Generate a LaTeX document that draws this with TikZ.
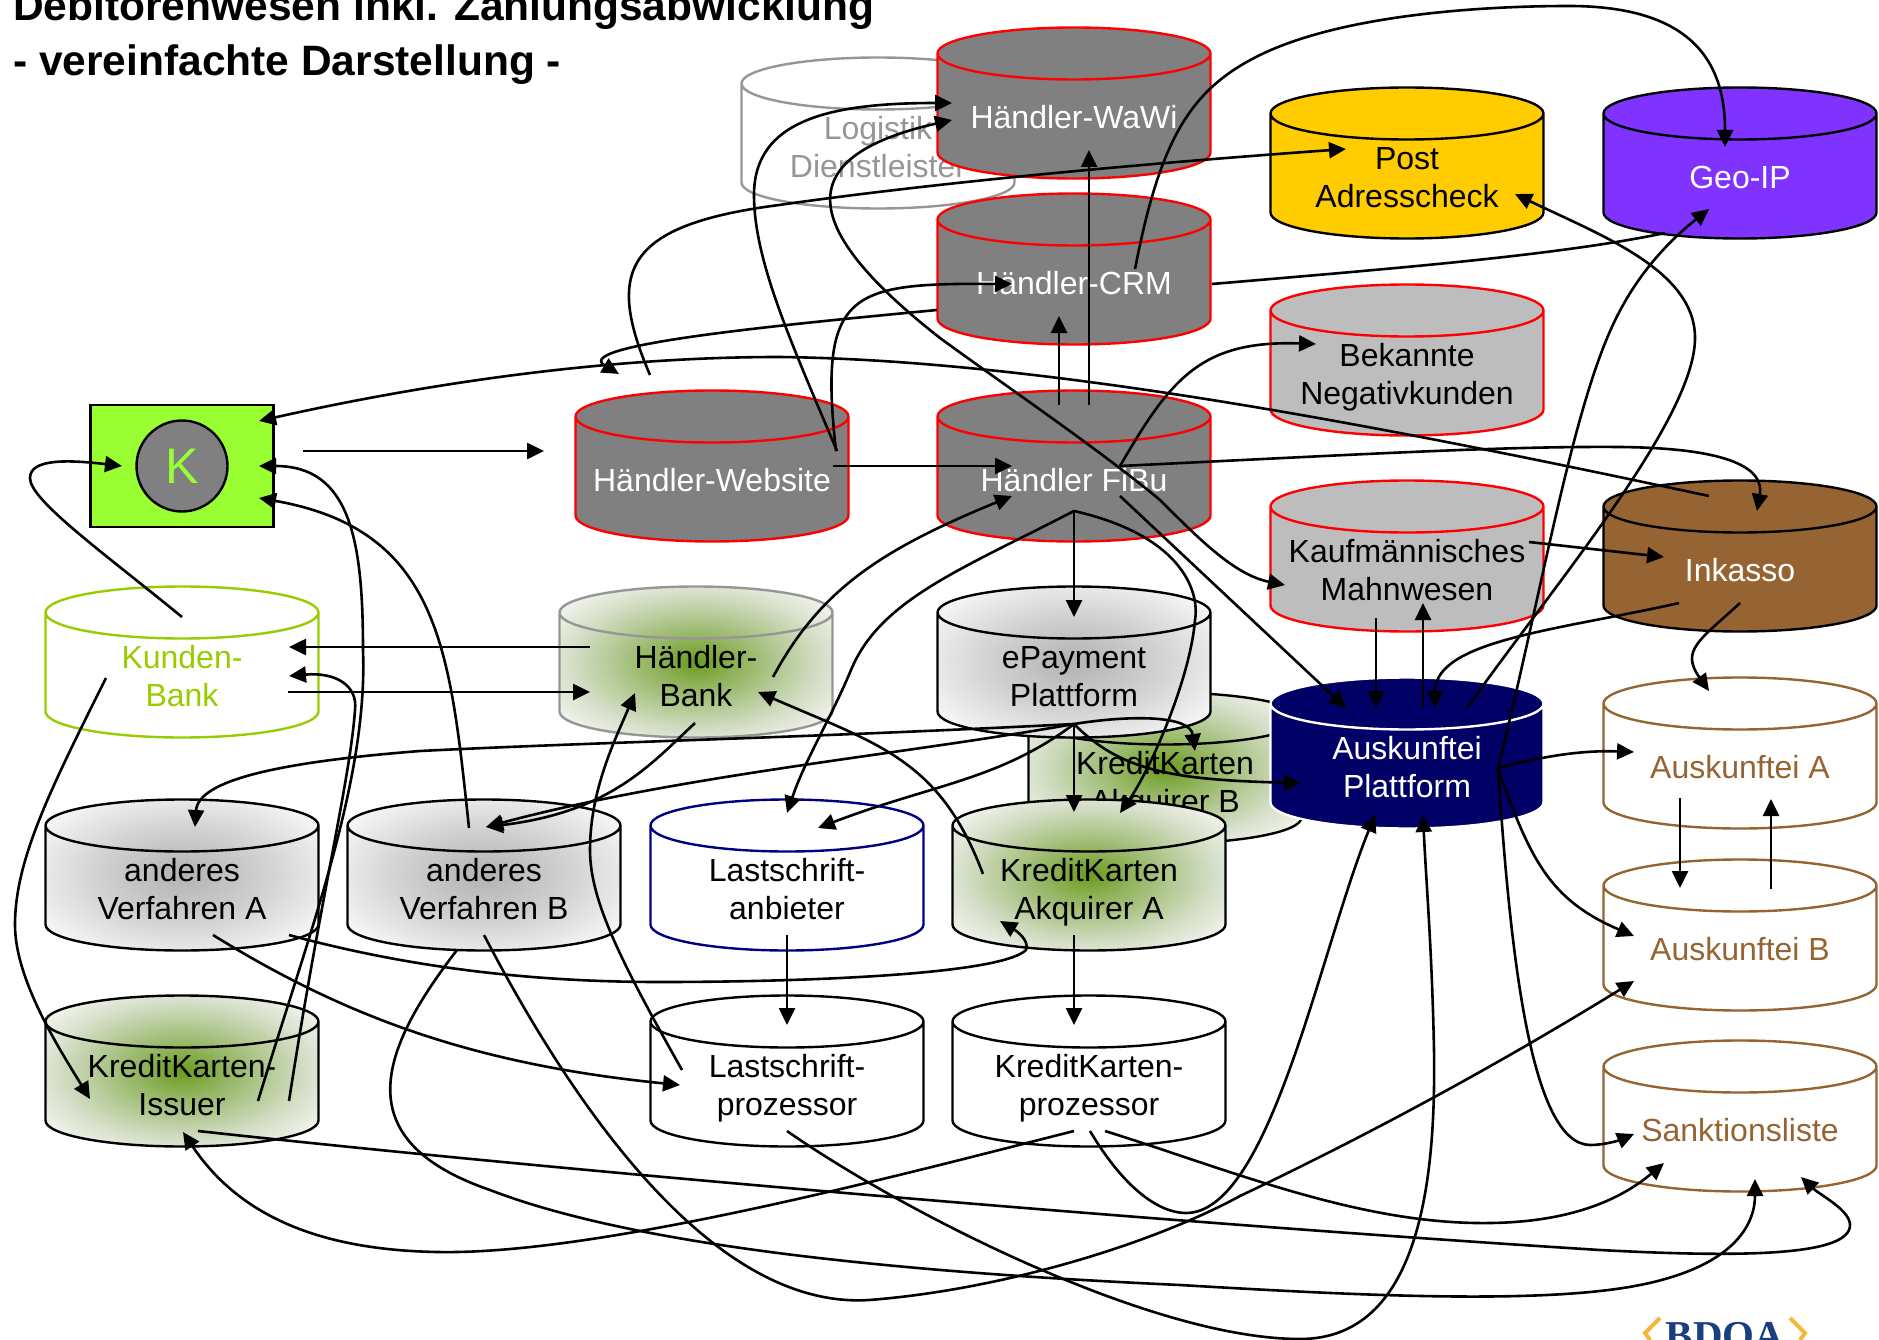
\documentclass[tikz,border=0pt]{standalone}
\usepackage{fontspec}
\setmainfont{Liberation Sans}
\newfontfamily\logofont{Liberation Serif}
\usepackage{xcolor}
\usetikzlibrary{arrows.meta,shapes.geometric}
\definecolor{dbred}{RGB}{255,0,0}
\definecolor{dbgray}{RGB}{128,128,128}
\definecolor{dbsilver}{RGB}{189,189,189}
\definecolor{dbfaint}{RGB}{150,150,150}
\definecolor{dblime}{RGB}{153,255,51}
\definecolor{dbolive}{RGB}{153,204,0}
\definecolor{dbyellow}{RGB}{255,204,0}
\definecolor{dbviolet}{RGB}{128,51,255}
\definecolor{dbbrown}{RGB}{150,100,50}
\definecolor{dbnavy}{RGB}{0,0,102}
\definecolor{dbblue}{RGB}{0,0,128}
\definecolor{dblogo}{RGB}{26,63,127}
\definecolor{dbgold}{RGB}{240,185,60}
\definecolor{dbgreena}{RGB}{107,155,30}
\definecolor{dbgreenb}{RGB}{136,174,78}
\definecolor{dbgreenc}{RGB}{173,197,138}
\definecolor{dbgreend}{RGB}{213,223,200}
\definecolor{dbgreene}{RGB}{246,247,242}
\definecolor{dbshadea}{RGB}{178,178,178}
\definecolor{dbshadeb}{RGB}{208,208,208}
\definecolor{dbshadec}{RGB}{250,250,250}
\pgfdeclareradialshading{dbgreenglow}{\pgfpointorigin}{color(0bp)=(dbgreena); color(6bp)=(dbgreenb); color(14bp)=(dbgreenc); color(23bp)=(dbgreend); color(32bp)=(dbgreene); color(50bp)=(dbgreene)}
\pgfdeclareradialshading{dbgrayglow}{\pgfpointorigin}{color(0bp)=(dbshadea); color(15bp)=(dbshadeb); color(32bp)=(dbshadec); color(50bp)=(dbshadec)}
% keeps the cylinders one size, whatever they hold
\newcommand{\cyltext}[1]{\makebox[200pt]{\raisebox{-10.5pt}[12.5pt][12.5pt]{\begin{tabular}{@{}c@{}}#1\end{tabular}}}}
\tikzstyle{arrow} = [line width=2.6pt,-{Triangle[length=17pt,width=16pt]},color=black]
\tikzstyle{datastore} = [cylinder, shape border rotate=90, aspect=0.26, anchor=shape center, minimum width=273pt, minimum height=151pt, inner sep=0pt, outer sep=0pt, draw=black, fill=white, line width=2.4pt, font=\fontsize{32}{38}\selectfont]
\tikzstyle{merchant} = [datastore, draw=dbred, fill=dbgray, text=white]
\tikzstyle{greenstore} = [datastore, shade, shading=dbgreenglow]
\tikzstyle{graystore} = [datastore, shade, shading=dbgrayglow]
\tikzstyle{brownstore} = [datastore, draw=dbbrown, text=dbbrown]

\begin{document}
\begin{tikzpicture}[x=1pt, y=-1pt]
\useasboundingbox (0,0) rectangle (1879,1340);

% Title
\node[anchor=base west, align=left, inner sep=0pt, font=\fontsize{42.5}{55}\selectfont\bfseries] (title) at (13,76) {Debitorenwesen inkl. Zahlungsabwicklung\\- vereinfachte Darstellung -};

% Customer
\node[rectangle, draw=black, fill=dblime, line width=2.4pt, minimum width=183pt, minimum height=122pt] (kunde) at (182,466) {};
\node[circle, draw=black, fill=dbgray, line width=2.4pt, minimum size=91pt, inner sep=0pt, text=dblime, font=\fontsize{50}{50}\selectfont] (kreis) at (182,466) {K};

% Stores, back row first
\node[datastore, draw=dbfaint, text=dbfaint] (logistik) at (878,133) {\cyltext{Logistik\\Dienstleister}};
\node[greenstore] (akqb) at (1165,768) {\cyltext{KreditKarten\\Akquirer B}};
\node[merchant] (hwawi) at (1074,103) {\cyltext{Händler-WaWi}};
\node[merchant] (hcrm) at (1074,269) {\cyltext{Händler-CRM}};
\node[merchant] (hfibu) at (1074,466) {\cyltext{Händler FiBu}};
\node[merchant] (hweb) at (712,466) {\cyltext{Händler-Website}};
\node[datastore, fill=dbyellow] (post) at (1407,163) {\cyltext{Post\\Adresscheck}};
\node[datastore, fill=dbviolet, text=white] (geoip) at (1740,163) {\cyltext{Geo-IP}};
\node[datastore, draw=dbred, fill=dbsilver] (negativ) at (1407,360) {\cyltext{Bekannte\\Negativkunden}};
\node[datastore, draw=dbred, fill=dbsilver] (mahn) at (1407,556) {\cyltext{Kaufmännisches\\Mahnwesen}};
\node[datastore, fill=dbbrown, text=white] (inkasso) at (1740,556) {\cyltext{Inkasso}};
\node[datastore, draw=dbolive, text=dbolive] (kbank) at (182,662) {\cyltext{Kunden-\\Bank}};
\node[greenstore, draw=dbfaint] (hbank) at (696,662) {\cyltext{Händler-\\Bank}};
\node[graystore] (epay) at (1074,662) {\cyltext{ePayment\\Plattform}};
\node[datastore, draw=white, fill=dbnavy, text=white] (ausk) at (1407,753) {\cyltext{Auskunftei\\Plattform}};
\node[brownstore] (auska) at (1740,753) {\cyltext{Auskunftei A}};
\node[brownstore] (auskb) at (1740,935) {\cyltext{Auskunftei B}};
\node[brownstore] (sanktion) at (1740,1116) {\cyltext{Sanktionsliste}};
\node[graystore] (verfa) at (182,875) {\cyltext{anderes\\Verfahren A}};
\node[graystore] (verfb) at (484,875) {\cyltext{anderes\\Verfahren B}};
\node[datastore, draw=dbblue] (lsanb) at (787,875) {\cyltext{Lastschrift-\\anbieter}};
\node[greenstore] (akqa) at (1089,875) {\cyltext{KreditKarten\\Akquirer A}};
\node[greenstore] (issuer) at (182,1071) {\cyltext{KreditKarten-\\Issuer}};
\node[datastore] (lsproz) at (787,1071) {\cyltext{Lastschrift-\\prozessor}};
\node[datastore] (kkproz) at (1089,1071) {\cyltext{KreditKarten-\\prozessor}};

% Logo
\node[anchor=base, inner sep=0pt, text=dblogo, font=\fontsize{41}{41}\selectfont\logofont\bfseries] (logo) at (1725,1349) {BDOA};
\draw[dbgold, line width=4pt] ([shift={(-65,-31)}]logo.base) -- ([shift={(-80,-16)}]logo.base) -- ([shift={(-75,-9)}]logo.base);
\draw[dbgold, line width=4pt] ([shift={(65,-31)}]logo.base) -- ([shift={(80,-16)}]logo.base) -- ([shift={(75,-9)}]logo.base);

% Customer links
\draw[arrow] ([shift={(121,-15)}]kunde.center) -- ([shift={(-168,-15)}]hweb.shape center);
\draw[arrow] ([shift={(-31,-60)}]inkasso.shape center) .. controls (1400,430) and (1050,360) .. (779,357) .. controls (600,357) and (420,385) .. ([shift={(77,-45)}]kunde.center);
\draw[arrow] ([shift={(0,-45)}]kbank.shape center) .. controls (100,550) and (30,500) .. (30,478) .. controls (30,458) and (70,460) .. ([shift={(-60,0)}]kunde.center);
\draw[arrow] ([shift={(76,30)}]issuer.shape center) .. controls (310,930) and (368,780) .. (363,650) .. controls (363,540) and (350,466) .. ([shift={(77,0)}]kunde.center);
\draw[arrow] ([shift={(-15,-47)}]verfb.shape center) .. controls (450,650) and (440,530) .. ([shift={(77,32)}]kunde.center);

% Merchant systems
\draw[arrow] ([shift={(-137,41)}]hcrm.shape center) .. controls (780,325) and (570,345) .. ([shift={(-93,-92)}]hweb.shape center);
\draw[arrow] ([shift={(-62,-91)}]hweb.shape center) .. controls (605,270) and (625,225) .. (779,205) .. controls (940,182) and (1150,163) .. ([shift={(-61,-14)}]post.shape center);
\draw[arrow] ([shift={(125,-15)}]hweb.shape center) .. controls (790,340) and (754,260) .. (754,195) .. controls (754,120) and (830,103) .. ([shift={(-122,0)}]hwawi.shape center);
\draw[arrow, {Triangle[length=17pt,width=16pt]}-{Triangle[length=17pt,width=16pt]}] ([shift={(-122,17)}]hwawi.shape center) .. controls (775,160) and (815,240) .. (940,338) .. controls (1000,382) and (1100,450) .. (1160,500) .. controls (1200,540) and (1235,575) .. ([shift={(-122,29)}]mahn.shape center);
\draw[arrow] ([shift={(-15,-61)}]hfibu.shape center) -- ([shift={(-15,47)}]hcrm.shape center);
\draw[arrow] ([shift={(15,-61)}]hfibu.shape center) -- ([shift={(15,47)}]hwawi.shape center);
\draw[arrow] ([shift={(121,0)}]hweb.shape center) -- ([shift={(-62,0)}]hfibu.shape center);
\draw[arrow] ([shift={(124,-15)}]hweb.shape center) .. controls (818,290) and (850,283) .. ([shift={(-62,15)}]hcrm.shape center);
\draw[arrow] ([shift={(61,0)}]hcrm.shape center) .. controls (1160,140) and (1190,90) .. (1258,56) .. controls (1340,15) and (1480,6) .. (1569,6) .. controls (1700,6) and (1725,70) .. ([shift={(-15,-16)}]geoip.shape center);
\draw[line width=2.6pt] ([shift={(138,15)}]hcrm.shape center) .. controls (1400,268) and (1560,255) .. ([shift={(-75,70)}]geoip.shape center);

% FiBu links
\draw[arrow] ([shift={(46,0)}]hfibu.shape center) .. controls (1170,380) and (1200,340) .. ([shift={(-91,-16)}]negativ.shape center);
\draw[arrow] ([shift={(46,0)}]hfibu.shape center) .. controls (1350,455) and (1500,446) .. (1620,447) .. controls (1720,448) and (1765,465) .. ([shift={(17,-45)}]inkasso.shape center);
\draw[arrow] ([shift={(46,30)}]hfibu.shape center) -- ([shift={(-61,-45)}]ausk.shape center);
\draw[arrow] ([shift={(0,45)}]hfibu.shape center) -- ([shift={(0,-45)}]epay.shape center);
\draw[arrow] ([shift={(0,45)}]hfibu.shape center) .. controls (1180,535) and (1200,590) .. (1195,620) .. controls (1190,680) and (1150,770) .. ([shift={(31,-62)}]akqa.shape center);
\draw[arrow] ([shift={(0,45)}]hfibu.shape center) .. controls (960,570) and (880,600) .. (851,670) .. controls (830,720) and (805,760) .. ([shift={(0,-62)}]lsanb.shape center);
\draw[arrow] ([shift={(77,15)}]hbank.shape center) .. controls (820,590) and (880,550) .. ([shift={(-62,30)}]hfibu.shape center);

% Banks
\draw[arrow] ([shift={(-106,-15)}]hbank.shape center) -- ([shift={(107,-15)}]kbank.shape center);
\draw[arrow] ([shift={(106,30)}]kbank.shape center) -- ([shift={(-106,30)}]hbank.shape center);
\draw[arrow] ([shift={(107,30)}]issuer.shape center) .. controls (320,900) and (350,780) .. (355,710) .. controls (358,685) and (335,672) .. ([shift={(107,14)}]kbank.shape center);
\draw[arrow] ([shift={(-76,16)}]kbank.shape center) .. controls (50,790) and (15,860) .. (15,925) .. controls (15,980) and (60,1050) .. ([shift={(-92,28)}]issuer.shape center);

% ePayment fan
\draw[arrow] ([shift={(0,62)}]epay.shape center) .. controls (800,738) and (600,742) .. (420,751) .. controls (280,762) and (198,780) .. ([shift={(13,-48)}]verfa.shape center);
\draw[arrow] ([shift={(0,62)}]epay.shape center) .. controls (900,755) and (680,775) .. ([shift={(2,-48)}]verfb.shape center);
\draw[arrow] ([shift={(0,62)}]epay.shape center) .. controls (1000,780) and (930,785) .. ([shift={(31,-47)}]lsanb.shape center);
\draw[arrow] ([shift={(0,62)}]epay.shape center) -- ([shift={(-15,-63)}]akqa.shape center);
\draw[arrow] ([shift={(0,62)}]epay.shape center) .. controls (1130,715) and (1190,715) .. ([shift={(30,-17)}]akqb.shape center);
\draw[arrow] ([shift={(0,62)}]epay.shape center) .. controls (1120,770) and (1170,780) .. ([shift={(-106,30)}]ausk.shape center);

% Middle rows
\draw[arrow] ([shift={(-1,61)}]hbank.shape center) .. controls (650,765) and (610,812) .. ([shift={(2,-48)}]verfb.shape center);
\draw[arrow] ([shift={(-105,-1)}]lsproz.shape center) .. controls (620,960) and (590,900) .. (590,850) .. controls (590,790) and (615,740) .. ([shift={(-61,31)}]hbank.shape center);
\draw[arrow] ([shift={(-106,-1)}]akqa.shape center) .. controls (940,760) and (880,745) .. ([shift={(62,30)}]hbank.shape center);
\draw[arrow] ([shift={(107,60)}]verfa.shape center) .. controls (400,965) and (520,982) .. (660,982) .. controls (800,982) and (1000,975) .. (1026,950) .. controls (1030,940) and (1015,930) .. ([shift={(-89,46)}]akqa.shape center);
\draw[arrow] ([shift={(31,60)}]verfa.shape center) .. controls (350,1020) and (480,1065) .. ([shift={(-107,14)}]lsproz.shape center);
\draw[arrow] ([shift={(0,60)}]lsanb.shape center) -- ([shift={(0,-46)}]lsproz.shape center);
\draw[arrow] ([shift={(-15,60)}]akqa.shape center) -- ([shift={(-15,-46)}]kkproz.shape center);

% Long curves at the bottom
\draw[arrow] ([shift={(-27,75)}]verfb.shape center) .. controls (380,1050) and (345,1140) .. (490,1190) .. controls (620,1240) and (850,1270) .. (1180,1285) .. controls (1350,1295) and (1540,1305) .. (1640,1285) .. controls (1740,1265) and (1755,1220) .. ([shift={(15,63)}]sanktion.shape center);
\draw[arrow] ([shift={(0,60)}]verfb.shape center) .. controls (570,1100) and (710,1310) .. (869,1300) .. controls (1000,1290) and (1150,1245) .. (1240,1196) .. controls (1400,1120) and (1530,1045) .. ([shift={(-106,46)}]auskb.shape center);
\draw[arrow] ([shift={(0,60)}]lsproz.shape center) .. controls (900,1210) and (1150,1339) .. (1300,1339) .. controls (1420,1339) and (1436,1180) .. (1434,1050) .. controls (1432,950) and (1426,880) .. ([shift={(16,62)}]ausk.shape center);
\draw[arrow] ([shift={(1,60)}]kkproz.shape center) .. controls (1125,1190) and (1160,1213) .. (1186,1213) .. controls (1270,1213) and (1320,950) .. ([shift={(-32,62)}]ausk.shape center);
\draw[arrow] ([shift={(-15,60)}]kkproz.shape center) .. controls (900,1175) and (600,1255) .. (438,1252) .. controls (310,1250) and (235,1210) .. ([shift={(1,61)}]issuer.shape center);
\draw[arrow] ([shift={(16,60)}]kkproz.shape center) .. controls (1230,1170) and (1360,1225) .. (1490,1223) .. controls (1570,1222) and (1620,1200) .. ([shift={(-76,47)}]sanktion.shape center);
\draw[arrow] ([shift={(16,60)}]issuer.shape center) .. controls (600,1175) and (1200,1225) .. (1600,1250) .. controls (1750,1258) and (1850,1255) .. (1850,1225) .. controls (1850,1210) and (1820,1195) .. ([shift={(61,61)}]sanktion.shape center);

% Auskunftei
\draw[arrow] ([shift={(91,15)}]ausk.shape center) .. controls (1540,757) and (1580,750) .. ([shift={(-106,-1)}]auska.shape center);
\draw[arrow] ([shift={(91,15)}]ausk.shape center) .. controls (1530,860) and (1550,900) .. ([shift={(-106,1)}]auskb.shape center);
\draw[arrow] ([shift={(91,15)}]ausk.shape center) .. controls (1510,950) and (1530,1144) .. (1590,1145) .. controls (1605,1145) and (1620,1140) .. ([shift={(-106,18)}]sanktion.shape center);
\draw[arrow] ([shift={(-60,45)}]auska.shape center) -- ([shift={(-60,-47)}]auskb.shape center);
\draw[arrow] ([shift={(31,-46)}]auskb.shape center) -- ([shift={(31,46)}]auska.shape center);
\draw[arrow] ([shift={(122,-14)}]mahn.shape center) -- ([shift={(-76,1)}]inkasso.shape center);
\draw[arrow] ([shift={(-31,62)}]mahn.shape center) -- ([shift={(-31,-45)}]ausk.shape center);
\draw[arrow] ([shift={(16,-45)}]ausk.shape center) -- ([shift={(16,47)}]mahn.shape center);
\draw[arrow] ([shift={(-61,47)}]inkasso.shape center) .. controls (1560,630) and (1435,640) .. ([shift={(28,-45)}]ausk.shape center);
\draw[arrow] ([shift={(0,47)}]inkasso.shape center) .. controls (1700,640) and (1680,650) .. ([shift={(-31,-62)}]auska.shape center);
\draw[arrow] ([shift={(60,-45)}]ausk.shape center) .. controls (1550,590) and (1695,420) .. (1695,338) .. controls (1695,270) and (1600,235) .. ([shift={(108,31)}]post.shape center);
\draw[arrow] ([shift={(91,15)}]ausk.shape center) .. controls (1540,600) and (1570,420) .. (1611,329) .. controls (1635,275) and (1670,240) .. ([shift={(-31,46)}]geoip.shape center);
\end{tikzpicture}
\end{document}
